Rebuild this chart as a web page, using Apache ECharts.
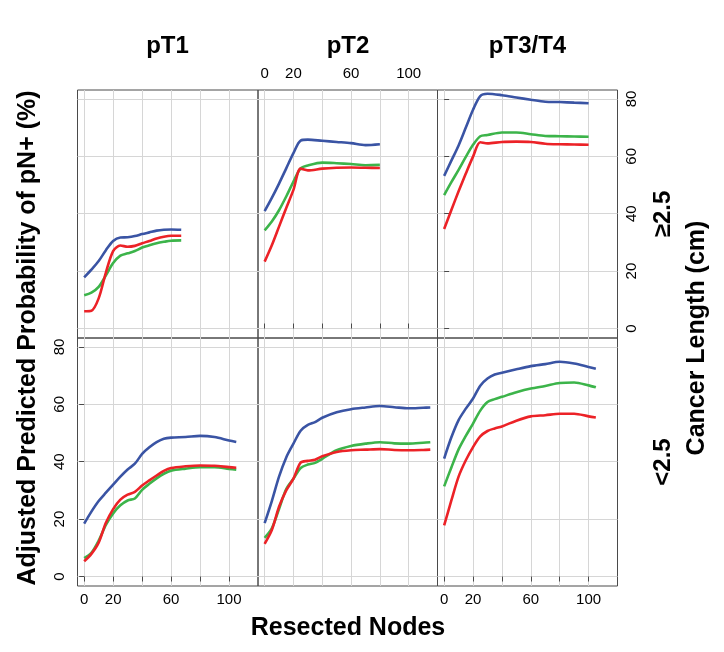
<!DOCTYPE html>
<html>
<head>
<meta charset="utf-8">
<script src="https://cdn.jsdelivr.net/npm/echarts@6/dist/echarts.min.js"></script>
<style>html,body{margin:0;padding:0;background:#fff}#c{width:724px;height:652px}</style>
</head>
<body>
<div id="c"></div>
<script>
// ---- labels ----
const colTitles = ['pT1', 'pT2', 'pT3/T4'];
const rowTitles = ['\u22652.5', '<2.5'];
const xTitle = 'Resected Nodes';
const yTitle = 'Adjusted Predicted Probability of pN+ (%)';
const rowAxisTitle = 'Cancer Length (cm)';
const xTicks = [0, 20, 40, 60, 80, 100];
const xTickLabels = [0, 20, 60, 100];
const yTicks = [0, 20, 40, 60, 80];

// ---- data: Cancer length >= 2.5 ----
const pT1_hi_x     = [0, 5, 10, 15, 20, 25, 30, 35, 40, 45, 50, 55, 60, 67];
const pT1_hi_blue  = [17.8, 20.5, 23.5, 27.3, 30.5, 31.7, 31.8, 32.2, 32.9, 33.5, 34.1, 34.4, 34.5, 34.4];
const pT1_hi_green = [11.6, 12.5, 14.5, 18.5, 22.8, 25.4, 26.2, 27.0, 28.2, 29.0, 29.7, 30.2, 30.6, 30.7];
const pT1_hi_red   = [6.0, 6.2, 10.5, 19.5, 27.0, 28.9, 28.5, 28.8, 29.7, 30.5, 31.4, 32.0, 32.3, 32.3];

const pT2_hi_x     = [0, 5, 10, 15, 20, 25, 30, 40, 50, 60, 70, 80];
const pT2_hi_blue  = [40.9, 45.5, 50.5, 55.8, 61.1, 65.5, 65.8, 65.4, 65.0, 64.6, 63.9, 64.2];
const pT2_hi_green = [34.2, 37.3, 41.2, 46.0, 51.2, 55.8, 56.8, 57.8, 57.6, 57.3, 56.9, 57.0];
const pT2_hi_red   = [23.3, 29.0, 35.5, 42.0, 48.3, 55.7, 55.1, 55.7, 56.0, 56.1, 56.0, 55.9];

const pT3_hi_x     = [0, 5, 10, 15, 20, 25, 30, 40, 50, 60, 70, 80, 90, 100];
const pT3_hi_blue  = [53.2, 58.5, 63.8, 70.0, 76.2, 81.0, 81.8, 81.3, 80.5, 79.7, 79.0, 78.9, 78.7, 78.5];
const pT3_hi_green = [46.5, 51.0, 55.3, 59.8, 64.0, 67.0, 67.4, 68.3, 68.3, 67.7, 67.1, 67.0, 66.9, 66.8];
const pT3_hi_red   = [34.7, 41.3, 47.8, 54.0, 59.9, 64.9, 64.5, 65.0, 65.1, 65.0, 64.4, 64.2, 64.1, 64.0];

// ---- data: Cancer length < 2.5 ----
const pT1_lo_x     = [0, 5, 10, 15, 20, 25, 30, 35, 40, 45, 50, 55, 60, 70, 80, 90, 100, 105];
const pT1_lo_blue  = [18.4, 22.6, 26.3, 29.2, 32.0, 34.8, 37.3, 39.3, 42.7, 45.0, 46.8, 48.0, 48.4, 48.6, 49.0, 48.6, 47.4, 46.9];
const pT1_lo_green = [6.4, 8.3, 12.5, 18.0, 22.0, 24.8, 26.5, 27.2, 30.2, 32.3, 34.2, 35.8, 36.9, 37.6, 38.1, 38.1, 37.5, 37.2];
const pT1_lo_red   = [5.3, 7.9, 11.8, 18.7, 23.5, 26.8, 28.5, 29.5, 31.7, 33.5, 35.2, 36.8, 37.8, 38.4, 38.7, 38.6, 38.1, 37.9];

const pT2_lo_x     = [0, 5, 10, 15, 20, 25, 30, 35, 40, 50, 60, 70, 80, 90, 100, 110, 115];
const pT2_lo_blue  = [18.6, 26.3, 34.8, 41.5, 46.3, 50.8, 52.8, 53.8, 55.3, 57.2, 58.3, 58.9, 59.4, 59.0, 58.6, 58.8, 58.9];
const pT2_lo_green = [13.5, 16.8, 23.5, 30.5, 34.1, 37.8, 39.0, 39.6, 41.0, 44.0, 45.5, 46.3, 46.8, 46.4, 46.3, 46.6, 46.8];
const pT2_lo_red   = [11.4, 16.2, 24.3, 30.0, 34.1, 39.7, 40.3, 40.7, 41.9, 43.4, 44.0, 44.2, 44.4, 44.1, 44.0, 44.1, 44.2];

const pT3_lo_x     = [0, 5, 10, 15, 20, 25, 30, 35, 40, 50, 60, 70, 80, 90, 100, 105];
const pT3_lo_blue  = [41.1, 48.5, 54.5, 58.5, 62.0, 66.5, 69.0, 70.4, 71.0, 72.2, 73.3, 74.0, 74.8, 74.2, 73.0, 72.4];
const pT3_lo_green = [31.4, 38.0, 44.3, 49.0, 53.3, 57.8, 60.8, 61.8, 62.6, 64.2, 65.5, 66.4, 67.4, 67.6, 66.6, 65.9];
const pT3_lo_red   = [17.8, 26.5, 34.8, 40.5, 45.1, 48.8, 50.7, 51.6, 52.3, 54.3, 55.8, 56.2, 56.7, 56.7, 55.8, 55.4];

// ---- build ----
const panels = [
  [pT1_hi_x, pT1_hi_blue, pT1_hi_green, pT1_hi_red],
  [pT2_hi_x, pT2_hi_blue, pT2_hi_green, pT2_hi_red],
  [pT3_hi_x, pT3_hi_blue, pT3_hi_green, pT3_hi_red],
  [pT1_lo_x, pT1_lo_blue, pT1_lo_green, pT1_lo_red],
  [pT2_lo_x, pT2_lo_blue, pT2_lo_green, pT2_lo_red],
  [pT3_lo_x, pT3_lo_blue, pT3_lo_green, pT3_lo_red]
];
const colors = ['#3a54a4', '#3cb44a', '#ec2227'];
const FONT = '"Liberation Sans", Arial, Helvetica, sans-serif';

const colLeft = [77.5, 258, 437.5];
const rowTop = [90, 338];
const rowH = 248;

const grids = [], xAxes = [], yAxes = [], series = [];
for (let i = 0; i < 6; i++) {
  const r = Math.floor(i / 3), c = i % 3;
  grids.push({
    left: colLeft[c], top: rowTop[r], width: (c === 2 ? 180 : colLeft[c + 1] - colLeft[c]), height: rowH,
    show: true, borderColor: '#4a4a4a', borderWidth: 1, backgroundColor: 'transparent'
  });
  const showX = (r === 1 && c !== 1) || (r === 0 && c === 1);
  const top = (r === 0 && c === 1);
  xAxes.push({
    gridIndex: i, type: 'value', min: -4.6, max: 120,
    position: top ? 'top' : 'bottom',
    axisLine: { show: false },
    axisTick: { show: showX, customValues: xTicks, length: 5, lineStyle: { color: '#4a4a4a' } },
    axisLabel: { show: showX, customValues: xTickLabels, fontSize: 15, color: '#000', fontFamily: FONT, margin: top ? 9 : 6 },
    splitLine: { show: true, lineStyle: { color: '#d6d6d6', width: 1 } }
  });
  const showY = (r === 0 && c === 2) || (r === 1 && c === 0);
  yAxes.push({
    gridIndex: i, type: 'value', min: -3.3, max: 83.1,
    position: r === 0 ? 'right' : 'left',
    axisLine: { show: false },
    axisTick: { show: showY, customValues: yTicks, length: 5, lineStyle: { color: '#4a4a4a' } },
    axisLabel: { show: showY, customValues: yTicks, rotate: 90, fontSize: 15, color: '#000', fontFamily: FONT, margin: r === 0 ? 7 : 10 },
    splitLine: { show: true, lineStyle: { color: '#d6d6d6', width: 1 } }
  });
  const p = panels[i];
  for (let k = 0; k < 3; k++) {
    series.push({
      type: 'line', xAxisIndex: i, yAxisIndex: i,
      data: p[0].map((x, j) => [x, p[k + 1][j]]),
      smooth: 0.3, showSymbol: false, silent: true,
      lineStyle: { color: colors[k], width: 2.6 },
      z: 3 + (k === 0 ? 1 : 0)
    });
  }
}

const titleFont = 'bold 24px ' + FONT;
const graphics = [];
colTitles.forEach((t, c) => {
  graphics.push({ type: 'text', x: colLeft[c] + 90, y: 46,
    style: { text: t, font: titleFont, fill: '#000', textAlign: 'center', textVerticalAlign: 'middle' } });
});
rowTitles.forEach((t, r) => {
  graphics.push({ type: 'text', x: 663, y: rowTop[r] + rowH / 2, rotation: Math.PI / 2,
    style: { text: t, font: titleFont, fill: '#000', textAlign: 'center', textVerticalAlign: 'middle' } });
});
graphics.push({ type: 'text', x: 697, y: 338, rotation: Math.PI / 2,
  style: { text: rowAxisTitle, font: 'bold 25px ' + FONT, fill: '#000', textAlign: 'center', textVerticalAlign: 'middle' } });
graphics.push({ type: 'text', x: 28, y: 338, rotation: Math.PI / 2,
  style: { text: yTitle, font: 'bold 25px ' + FONT, fill: '#000', textAlign: 'center', textVerticalAlign: 'middle' } });
graphics.push({ type: 'text', x: 348, y: 628,
  style: { text: xTitle, font: 'bold 25px ' + FONT, fill: '#000', textAlign: 'center', textVerticalAlign: 'middle' } });

const chart = echarts.init(document.getElementById('c'), null, { renderer: 'canvas' });
chart.setOption({
  animation: false,
  backgroundColor: '#fff',
  grid: grids, xAxis: xAxes, yAxis: yAxes, series: series,
  graphic: graphics
});
</script>
</body>
</html>
